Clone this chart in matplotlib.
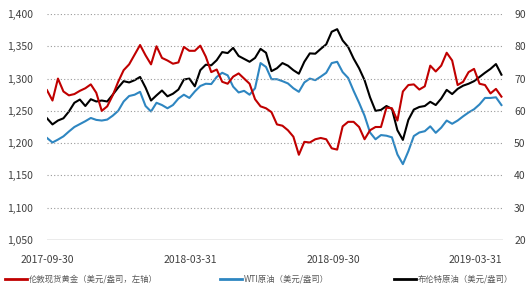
import matplotlib
matplotlib.use("Agg")
import matplotlib.pyplot as plt
import matplotlib.dates as mdates
import pandas as pd
from matplotlib.lines import Line2D

plt.rcParams['font.family'] = ['Noto Sans CJK SC', 'DejaVu Sans']

dates = pd.date_range("2017-09-29", periods=84, freq="7D")

gold = [1282, 1266, 1300, 1280, 1274, 1276, 1281, 1285, 1291, 1278,
        1250, 1257, 1274, 1295, 1313, 1322, 1337, 1352, 1336, 1322,
        1350, 1332, 1328, 1323, 1325, 1349, 1343, 1343, 1351, 1334,
        1310, 1314, 1295, 1292, 1303, 1308, 1300, 1292, 1268, 1257,
        1254, 1248, 1229, 1227, 1220, 1210, 1182, 1202, 1201, 1206,
        1208, 1206, 1192, 1190, 1226, 1233, 1233, 1225, 1206, 1220,
        1225, 1225, 1255, 1254, 1235, 1280, 1290, 1291, 1283, 1288,
        1320, 1311, 1320, 1340, 1328, 1290, 1295, 1310, 1315, 1292,
        1290, 1277, 1284, 1272]

wti = [51.6, 50.2, 51.1, 52.1, 53.6, 55.0, 55.9, 56.8, 57.8, 57.2,
       57.0, 57.3, 58.5, 60.0, 62.9, 64.6, 65.0, 65.9, 61.5, 59.8,
       62.5, 61.8, 60.8, 61.8, 63.8, 65.0, 64.0, 66.0, 67.7, 68.4,
       68.3, 70.5, 71.8, 71.0, 67.5, 65.7, 66.2, 65.0, 67.0, 74.8,
       73.6, 69.8, 69.8, 69.2, 68.5, 67.0, 65.9, 68.8, 70.0, 69.5,
       70.6, 71.8, 74.8, 75.2, 72.0, 70.2, 66.2, 62.5, 58.5, 53.3,
       51.2, 52.5, 52.3, 51.8, 46.5, 43.5, 47.5, 52.2, 53.3, 53.7,
       55.2, 53.2, 54.8, 57.0, 56.0, 57.0, 58.3, 59.5, 60.5, 62.0,
       64.0, 64.0, 64.2, 61.8]

brent = [57.7, 55.8, 57.0, 57.7, 59.8, 62.5, 63.5, 61.5, 63.6, 62.9,
         63.2, 62.9, 65.0, 67.2, 69.2, 68.8, 69.5, 70.5, 67.2, 63.2,
         64.8, 66.3, 64.5, 65.3, 66.6, 69.7, 70.0, 67.6, 72.6, 74.3,
         74.1, 75.7, 78.2, 77.9, 79.5, 77.0, 76.1, 75.2, 76.4, 79.2,
         78.0, 72.3, 73.2, 74.8, 74.0, 72.6, 71.5, 75.2, 77.8, 77.7,
         79.2, 80.6, 84.5, 85.3, 81.8, 79.8, 76.2, 73.2, 69.5, 64.2,
         60.0, 60.3, 61.5, 60.6, 54.0, 51.0, 57.2, 60.4, 61.2, 61.5,
         62.8, 61.8, 63.8, 66.5, 65.2, 66.8, 67.8, 68.4, 69.2, 70.5,
         71.8, 73.0, 74.5, 71.2]

left_ticks = [1050, 1100, 1150, 1200, 1250, 1300, 1350, 1400]
right_ticks = [20, 30, 40, 50, 60, 70, 80, 90]
x_tick_labels = ["2017-09-30", "2018-03-31", "2018-09-30", "2019-03-31"]
legend_labels = ["伦敦现货黄金（美元/盎司，左轴）", "WTI原油（美元/盎司）", "布伦特原油（美元/盎司）"]

c_gold = "#C00000"
c_wti = "#2E86C1"
c_brent = "#000000"
txt = "#404040"

fig = plt.figure(figsize=(5.31, 2.93), dpi=100)
ax = fig.add_axes([47/531, 1-240/293, 456/531, 226/293])
ax2 = ax.twinx()

ax.plot(dates, gold, color=c_gold, lw=1.5)
ax2.plot(dates, wti, color=c_wti, lw=1.5)
ax2.plot(dates, brent, color=c_brent, lw=1.5)

ax.set_ylim(1050, 1400)
ax2.set_ylim(20, 90)
ax.set_yticks(left_ticks)
ax.set_yticklabels([f"{v:,}" for v in left_ticks])
ax2.set_yticks(right_ticks)
ax.set_xlim(dates[0], dates[-1] + pd.Timedelta(days=2))
ax.set_xticks(pd.to_datetime(x_tick_labels))
ax.set_xticklabels(x_tick_labels)

for a in (ax, ax2):
    for s in a.spines.values():
        s.set_visible(False)
    a.tick_params(length=0, labelsize=7.5, colors=txt)
ax.tick_params(axis='y', pad=10)
ax2.tick_params(axis='y', pad=8)
ax.tick_params(axis='x', pad=11)

for v in left_ticks[1:]:
    ax.axhline(v, color="#9a9a9a", lw=0.8, ls=(0, (1, 2)), zorder=0)
ax.axhline(1050, color="#9a9a9a", lw=1.0, zorder=0)
ax.set_zorder(ax2.get_zorder() + 1)
ax.patch.set_visible(False)

handles = [Line2D([], [], color=c, lw=2) for c in (c_gold, c_wti, c_brent)]
xs = [5/531, 220/531, 394/531]
for h, lab, x in zip(handles, legend_labels, xs):
    fig.legend([h], [lab], loc="center left", bbox_to_anchor=(x, 1-279/293),
               frameon=False, fontsize=6, handlelength=2.6, handletextpad=0.3,
               borderpad=0, borderaxespad=0, labelcolor="#595959")

fig.savefig("out.png", dpi=100)
